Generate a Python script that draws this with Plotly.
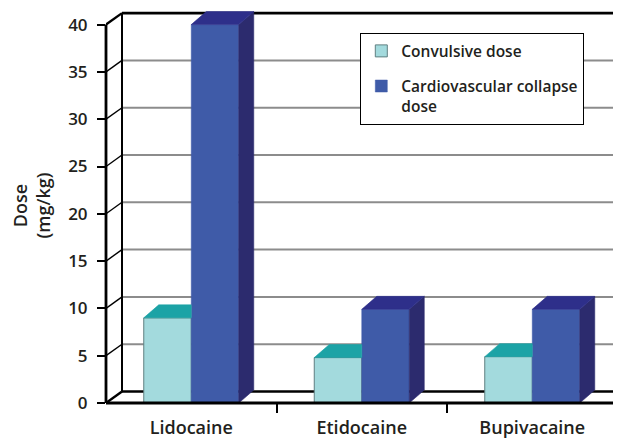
import plotly.graph_objects as go

# ---------------- data ----------------
categories = ["Lidocaine", "Etidocaine", "Bupivacaine"]
convulsive_dose = [9.0, 4.8, 4.9]
collapse_dose = [40.0, 9.9, 9.9]
y_ticks = [0, 5, 10, 15, 20, 25, 30, 35, 40]
series_names = ["Convulsive dose", "Cardiovascular collapse<br>dose"]
y_title = "Dose<br>(mg/kg)"

# ---------------- geometry / style ----------------
PAGE_OFF = 8                      # default body margin of the page
W, H = 621 - PAGE_OFF, 441 - PAGE_OFF
AXIS_X, FLOOR_Y, TOP_Y = 106, 403, 8   # page pixels
ML = AXIS_X - PAGE_OFF
MR = 0
MT = TOP_Y - PAGE_OFF
MB = H - (FLOOR_Y - PAGE_OFF)
PLOT_W = W - ML - MR
PLOT_H = H - MT - MB
PX_PER_CAT = 170.5
PX_PER_UNIT = 9.46
X0 = -0.5
X1 = X0 + PLOT_W / PX_PER_CAT
Y0 = 0.0
Y1 = PLOT_H / PX_PER_UNIT
BAR_W = 47.5 / PX_PER_CAT
WALL_DX = 16 / PX_PER_CAT
WALL_DY = 11.5 / PX_PER_UNIT
BAR_DX = 15 / PX_PER_CAT
BAR_DY = 13 / PX_PER_UNIT

FONT = "Open Sans"
TXT = "#231f20"
CONV_FRONT, CONV_TOP, CONV_SIDE = "#a3dadd", "#1ca3a6", "#178688"
COLL_FRONT, COLL_TOP, COLL_SIDE = "#3f5ba8", "#2e2f8a", "#2c2b6e"
GRID = "#8c8c8c"

fig = go.Figure()

# front faces of the bars
fig.add_trace(go.Bar(
    x=list(range(len(categories))), y=convulsive_dose, name=series_names[0],
    width=BAR_W, offset=-BAR_W, legendgroup="a",
    marker=dict(color=CONV_FRONT, line=dict(color="#5f7f81", width=1)),
    hoverinfo="skip"))
fig.add_trace(go.Bar(
    x=list(range(len(categories))), y=collapse_dose, name=series_names[1],
    width=BAR_W, offset=0, legendgroup="b",
    marker=dict(color=COLL_FRONT, line=dict(color=COLL_FRONT, width=0.5)),
    hoverinfo="skip"))


def poly(xs, ys, color):
    fig.add_trace(go.Scatter(
        x=xs + [xs[0]], y=ys + [ys[0]], mode="lines", fill="toself",
        fillcolor=color, line=dict(color=color, width=0.6),
        hoverinfo="skip", showlegend=False))


# 3-D top / side faces computed from the values
for i in range(len(categories)):
    vc, vk = convulsive_dose[i], collapse_dose[i]
    xl, xm, xr = i - BAR_W, i, i + BAR_W
    # convulsive bar (partly hidden behind the taller neighbour)
    if vk >= vc + BAR_DY:
        poly([xl, xm, xm, xl + BAR_DX], [vc, vc, vc + BAR_DY, vc + BAR_DY], CONV_TOP)
    else:
        poly([xm, xm + BAR_DX, xm + BAR_DX, xm], [0, BAR_DY, vc + BAR_DY, vc], CONV_SIDE)
        poly([xl, xm, xm + BAR_DX, xl + BAR_DX], [vc, vc, vc + BAR_DY, vc + BAR_DY], CONV_TOP)
    # collapse bar
    poly([xr, xr + BAR_DX, xr + BAR_DX, xr], [0, BAR_DY, vk + BAR_DY, vk], COLL_SIDE)
    poly([xm, xr, xr + BAR_DX, xm + BAR_DX], [vk, vk, vk + BAR_DY, vk + BAR_DY], COLL_TOP)

# ---------------- walls ----------------
shapes = []
ymax = max(y_ticks)
for v in y_ticks:
    edge = v in (0, ymax)
    shapes.append(dict(type="line", xref="x", yref="y", layer="below",
                       x0=X0 + WALL_DX, x1=X1, y0=v + WALL_DY, y1=v + WALL_DY,
                       line=dict(color="black" if edge else GRID, width=2.6 if edge else 2)))
    shapes.append(dict(type="line", xref="x", yref="y", layer="below",
                       x0=X0, x1=X0 + WALL_DX, y0=v, y1=v + WALL_DY,
                       line=dict(color="black", width=2.4 if edge else 1.4)))
shapes.append(dict(type="line", xref="x", yref="y", layer="below",
                   x0=X0 + WALL_DX, x1=X0 + WALL_DX, y0=WALL_DY, y1=ymax + WALL_DY,
                   line=dict(color="black", width=2)))
# front floor edge and front vertical axis
shapes.append(dict(type="line", xref="x", yref="paper", layer="above",
                   x0=X0, x1=X1, y0=0, y1=0, line=dict(color="black", width=2.8)))
shapes.append(dict(type="line", xref="paper", yref="y", layer="above",
                   x0=0, x1=0, y0=0, y1=ymax, line=dict(color="black", width=2.8)))

fig.update_layout(
    width=W, height=H,
    margin=dict(l=ML, r=MR, t=MT, b=MB, pad=0, autoexpand=False),
    paper_bgcolor="white", plot_bgcolor="white",
    barmode="overlay",
    shapes=shapes,
    font=dict(family=FONT, color=TXT),
    xaxis=dict(range=[X0, X1], showgrid=False, zeroline=False, showline=False,
               automargin=False,
               tickmode="array", tickvals=list(range(len(categories))), ticktext=categories,
               ticks="", tickfont=dict(family=FONT, size=18, weight=600, color=TXT),
               ticklabelstandoff=12,
               minor=dict(tickmode="array", tickvals=[i + 0.5 for i in range(len(categories))],
                          ticks="outside", ticklen=9, tickwidth=1.5, tickcolor="black"),
               fixedrange=True),
    yaxis=dict(range=[Y0, Y1], showgrid=False, zeroline=False, showline=False,
               automargin=False,
               tickmode="array", tickvals=y_ticks, ticks="outside", ticklen=8,
               tickwidth=2, tickcolor="black", ticklabelstandoff=6,
               tickfont=dict(family=FONT, size=17, weight=600, color=TXT),
               title=dict(text=y_title, standoff=14,
                          font=dict(family=FONT, size=18, weight=600, color=TXT)),
               fixedrange=True),
    legend=dict(x=(360 - AXIS_X) / PLOT_W, y=(FLOOR_Y - 33) / PLOT_H,
                xanchor="left", yanchor="top", bgcolor="white",
                bordercolor="black", borderwidth=1.3, valign="top",
                tracegroupgap=12,
                font=dict(family=FONT, size=15.5, weight=600, color=TXT)),
    showlegend=True,
)

fig.write_html("out.html")
